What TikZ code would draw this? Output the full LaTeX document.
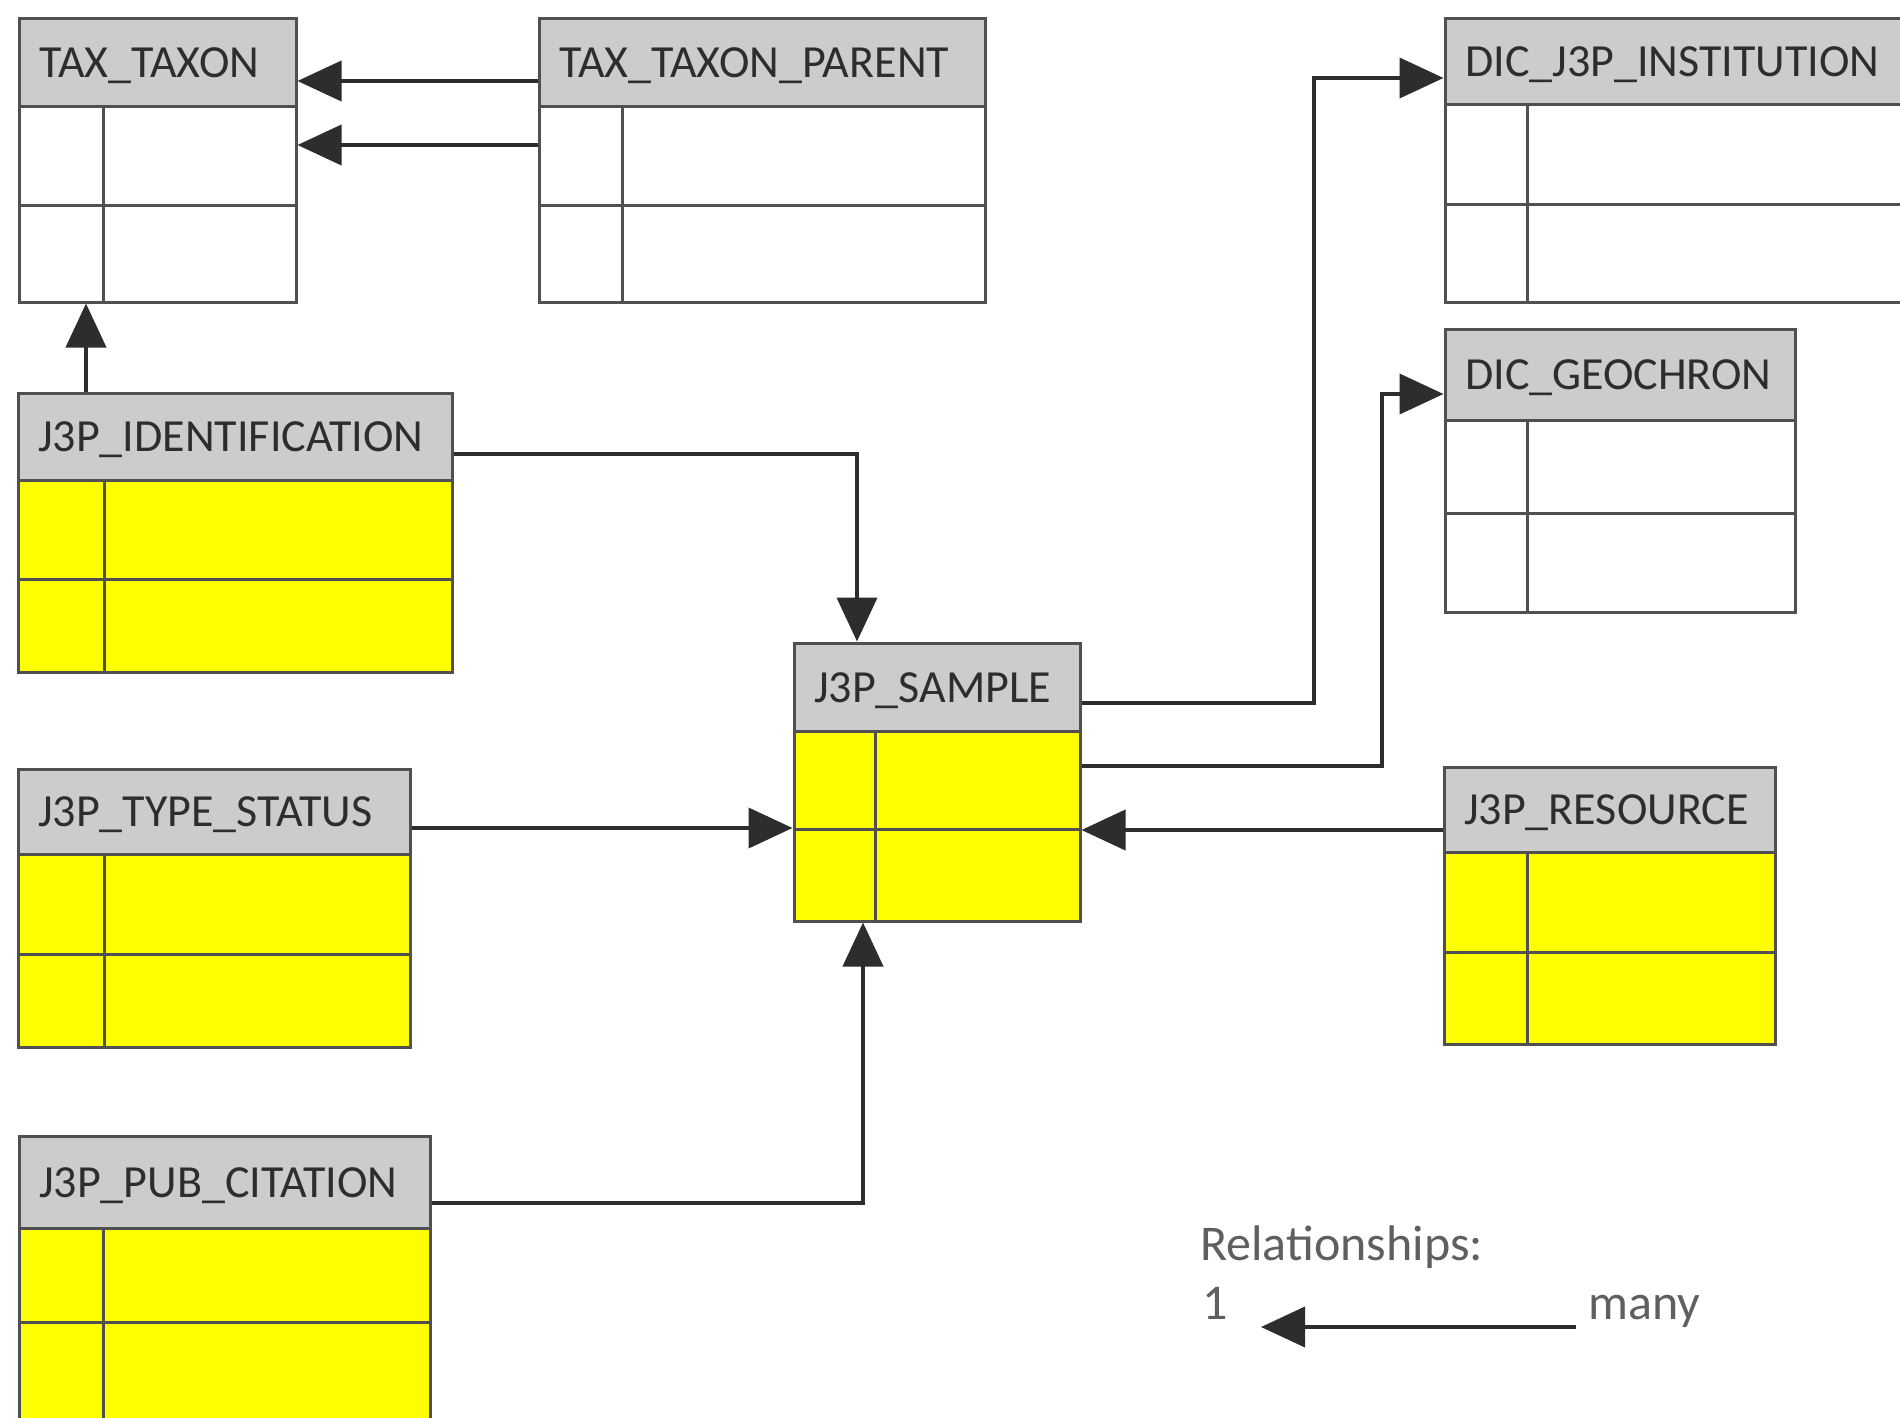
\documentclass[tikz,border=0pt]{standalone}
\usepackage{fontspec}
\setmainfont{Carlito}
\usetikzlibrary{arrows.meta,fit}
\definecolor{hdr}{RGB}{204,204,204}
\definecolor{bodyY}{RGB}{255,255,0}
\definecolor{edge}{RGB}{80,80,80}
\definecolor{ink}{RGB}{45,45,45}
\definecolor{legendink}{RGB}{95,95,95}
\tikzset{
  tablebox/.style={draw=edge, line width=3pt, inner sep=0pt, rectangle},
  innerline/.style={draw=edge, line width=3pt},
  tabletitle/.style={anchor=base west, inner sep=0pt, text=ink, font=\fontsize{46}{52}\selectfont},
  conn/.style={draw=ink, line width=4pt, -{Triangle[length=44pt,width=40pt]}},
  legendtext/.style={inner sep=0pt, text=legendink, font=\fontsize{50}{56}\selectfont},
}
\newcommand\erCore[9]{%
  \fill[fill=\erfill] (#2,#6) rectangle (#4,#5);
  \fill[fill=hdr] (#2,#3) rectangle (#4,#6);
  \draw[innerline] (#2,#6) -- (#4,#6);
  \draw[innerline] (#2,#7) -- (#4,#7);
  \draw[innerline] (#8,#6) -- (#8,#5);
  \node[tablebox, fit={(#2,#3) (#4,#5)}] (#1) {};
  \node[tabletitle] (#1-title) at ({#2+20},{(#3+#6)/2+15}) {#9};
}
\newcommand\erY{\def\erfill{bodyY}\erCore}
\newcommand\erW{\def\erfill{white}\erCore}
\begin{document}
\begin{tikzpicture}[x=1pt,y=-1pt]
\path[use as bounding box] (0,0) rectangle (1900,1418);
\clip (0,0) rectangle (1900,1418);
\fill[white] (0,0) rectangle (1900,1418);

\erW{taxon}{19}{19}{296}{302}{107}{205}{103}{TAX\_TAXON}
\erW{parent}{539}{19}{985}{302}{107}{205}{622}{TAX\_TAXON\_PARENT}
\erW{inst}{1445}{19}{1915}{302}{105}{204}{1527}{DIC\_J3P\_INSTITUTION}
\erW{geo}{1445}{329}{1795}{612}{420}{513}{1527}{DIC\_GEOCHRON}
\erY{ident}{18}{393}{452}{672}{480}{579}{104}{J3P\_IDENTIFICATION}
\erY{sample}{794}{643}{1080}{921}{731}{829}{875}{J3P\_SAMPLE}
\erY{type}{18}{769}{410}{1047}{854}{954}{104}{J3P\_TYPE\_STATUS}
\erY{res}{1444}{767}{1775}{1044}{852}{952}{1527}{J3P\_RESOURCE}
\erY{pub}{19}{1136}{430}{1440}{1228}{1322}{103}{J3P\_PUB\_CITATION}

% connectors
\draw[conn] (parent.west |- 0,81) -- (taxon.east |- 0,81);
\draw[conn] (parent.west |- 0,145) -- (taxon.east |- 0,145);
\draw[conn] (ident.north -| 86,0) -- (taxon.south -| 86,0);
\draw[conn] (ident.east |- 0,454) -| (sample.north -| 857,0);
\draw[conn] (type.east |- 0,828) -- (sample.west |- 0,828);
\draw[conn] (pub.east |- 0,1203) -| (sample.south -| 863,0);
\draw[conn] (sample.east |- 0,703) -| (1314,78) -- (inst.west |- 0,78);
\draw[conn] (sample.east |- 0,766) -| (1382,394) -- (geo.west |- 0,394);
\draw[conn] (res.west |- 0,830) -- (sample.east |- 0,830);

% legend
\node[legendtext, anchor=base west] (rel) at (1200,1260) {Relationships:};
\node[legendtext, anchor=base] (one) at (1215,1319) {1};
\node[legendtext, anchor=base west] (many) at (1588,1319) {many};
\coordinate (legA) at (1576,1327);
\coordinate (legB) at (1261,1327);
\draw[conn] (legA) -- (legB);
\end{tikzpicture}
\end{document}
